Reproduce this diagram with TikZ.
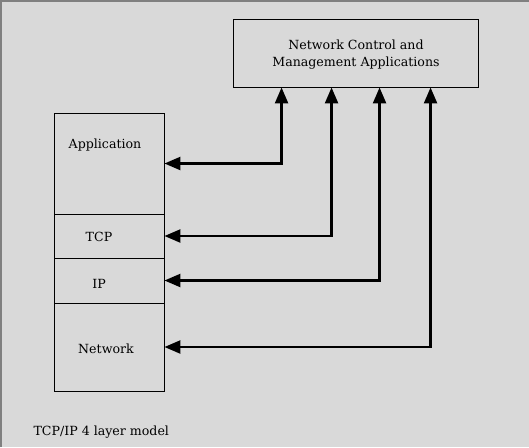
\documentclass[tikz,border=0pt]{standalone}
\usepackage{fontspec}
\setmainfont{DejaVu Serif}
\usetikzlibrary{arrows.meta}
\definecolor{bg}{RGB}{217,217,217}
\tikzset{
  box/.style={draw=black, line width=0.9pt, inner sep=0pt, align=center},
  cell/.style={box, minimum width=110pt},
  conn/.style={{Triangle[length=16pt,width=13pt]}-{Triangle[length=16pt,width=13pt]}, line width=2.4pt}
}
\begin{document}
\begin{tikzpicture}[x=1pt,y=-1pt,font=\fontsize{12.6}{17}\selectfont]
\fill[bg] (0,0) rectangle (529,447);
\useasboundingbox (0,0) rectangle (529,447);
\draw[gray, line width=1.5pt] (0.75,447) -- (0.75,0.75) -- (529,0.75);
% top box
\node[box, minimum width=245pt, minimum height=68pt] (ctl) at (355.5,53) {};
\node[align=center] (ctltext) at (356,55) {Network Control and\\Management Applications};
% layer stack
\node[cell, minimum height=101pt, label={[anchor=center, yshift=-32pt, xshift=-4pt]north:Application}] (app) at (109,163.5) {};
\node[cell, minimum height=44pt, label={[xshift=-10pt, yshift=-1pt]center:TCP}] (tcp) at (109,236) {};
\node[cell, minimum height=45pt, label={[xshift=-10pt, yshift=-3pt]center:IP}] (ip) at (109,280.5) {};
\node[cell, minimum height=88pt, label={[xshift=-3pt, yshift=-1.5pt]center:Network}] (net) at (109,347) {};
\node[anchor=west] (cap) at (30,432) {TCP/IP 4 layer model};
% connectors
\draw[conn] ([xshift=49pt]ctl.south west) |- (app.east);
\draw[conn] ([xshift=99pt]ctl.south west) |- (tcp.east);
\draw[conn] ([xshift=147pt]ctl.south west) |- (ip.east);
\draw[conn] ([xshift=198pt]ctl.south west) |- (net.east);
\end{tikzpicture}
\end{document}
